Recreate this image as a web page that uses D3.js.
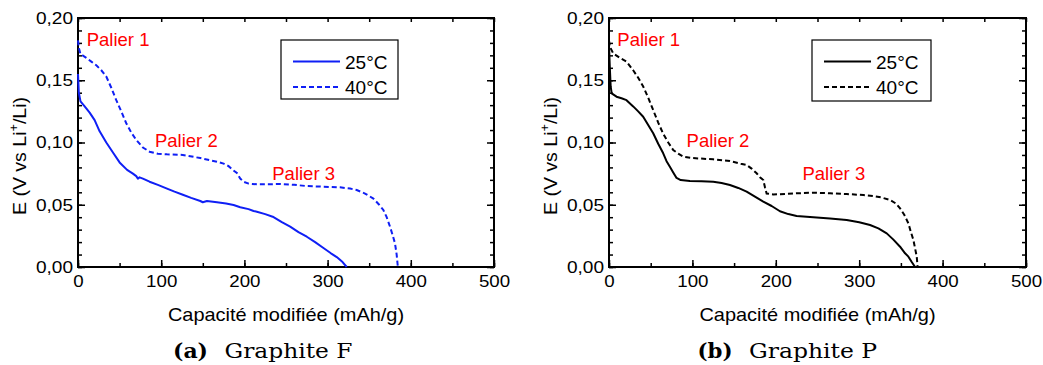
<!DOCTYPE html>
<html><head><meta charset="utf-8">
<script src="https://cdn.jsdelivr.net/npm/d3@7"></script>
<style>
html,body{margin:0;padding:0;background:#fff;}
</style></head>
<body><svg id="c" width="1043" height="365" font-family="Liberation Sans, Arial, sans-serif"></svg>
<script>
// ---------- data ----------
const xTicks = [0,100,200,300,400,500];
const yTicks = [0,0.05,0.10,0.15,0.20];
const seriesNames = ["25°C","40°C"];
const paliers = ["Palier 1","Palier 2","Palier 3"];
const captionsTag = ["(a)","(b)"];
const captionsText = ["Graphite F","Graphite P"];

// Graphite F, 25°C : [capacity mAh/g, E V]
const F25 = [[0,0.155],[1,0.140],[3,0.133],[8,0.129],[14,0.124],[20,0.118],[26,0.109],[34,0.100],[42,0.092],[50,0.084],[59,0.078],[66,0.075],[70,0.073],[72,0.071],[74,0.072],[78,0.071],[86,0.0685],[96,0.066],[107,0.063],[116,0.0605],[126,0.058],[136,0.0555],[147,0.053],[150,0.052],[155,0.053],[167,0.052],[178,0.051],[187,0.0498],[195,0.048],[205,0.0465],[211,0.045],[215,0.0444],[225,0.0425],[234,0.0404],[245,0.036],[255,0.0324],[265,0.028],[275,0.0243],[285,0.020],[295,0.0153],[304,0.011],[311,0.008],[318,0.004],[323,0.0]];
// Graphite F, 40°C
const F40 = [[0,0.182],[1,0.176],[3,0.171],[10,0.168],[16,0.165],[22,0.162],[28,0.158],[34,0.153],[40,0.144],[46,0.134],[52,0.125],[58,0.1155],[64,0.108],[70,0.102],[78,0.096],[86,0.0926],[96,0.091],[107,0.0905],[126,0.090],[147,0.0875],[160,0.0855],[167,0.0846],[175,0.083],[181,0.081],[186,0.078],[191,0.0755],[195,0.071],[199,0.0685],[205,0.067],[215,0.0664],[230,0.0665],[243,0.0667],[260,0.066],[275,0.065],[295,0.0645],[315,0.064],[327,0.063],[335,0.0618],[345,0.059],[355,0.055],[362,0.050],[367,0.0458],[371,0.040],[375,0.0324],[378,0.026],[381,0.019],[383,0.010],[384,0.003],[384.5,0.0]];
// Graphite P, 25°C
const P25 = [[0,0.178],[1,0.160],[2,0.145],[3.2,0.1395],[9,0.1368],[15,0.1355],[21,0.134],[29,0.129],[35,0.125],[41,0.1207],[47,0.114],[53,0.1074],[59,0.099],[65,0.0913],[69,0.085],[73,0.0806],[77,0.076],[81,0.0715],[86,0.0698],[97,0.069],[111,0.0688],[125,0.0685],[135,0.0675],[145,0.0659],[155,0.0635],[165,0.0605],[175,0.0565],[185,0.0525],[195,0.049],[205,0.0448],[215,0.0425],[225,0.041],[245,0.0399],[265,0.039],[285,0.0378],[300,0.036],[313,0.0337],[323,0.031],[333,0.027],[341,0.022],[349,0.0163],[355,0.011],[359,0.0083],[363,0.004],[367,0.0]];
// Graphite P, 40°C
const P40 = [[0,0.182],[1,0.177],[5,0.1716],[13,0.168],[21,0.165],[29,0.158],[35,0.152],[41,0.145],[47,0.136],[53,0.126],[59,0.116],[65,0.107],[71,0.100],[77,0.094],[83,0.091],[89,0.0886],[100,0.0875],[125,0.0865],[145,0.0851],[158,0.083],[165,0.082],[171,0.079],[177,0.0753],[181,0.072],[185,0.0699],[187,0.064],[189,0.059],[197,0.0583],[205,0.0585],[225,0.0592],[245,0.0597],[265,0.0592],[285,0.0586],[305,0.0578],[317,0.057],[327,0.0558],[337,0.0538],[344,0.051],[349,0.0471],[354,0.042],[359,0.035],[362,0.028],[365,0.0217],[367,0.015],[369,0.0083],[370,0.0]];
// annotation anchor points in data units [capacity, E]
const palierPosF = [[10.5,0.1777],[92.5,0.0966],[233.5,0.0699]];
const palierPosP = [[10,0.1777],[93,0.0966],[232,0.0699]];

// ---------- drawing ----------
const svg = d3.select("#c");
const fmt = d => d3.format(".2f")(d).replace(".", ",");
function stretch(sel, f){
  sel.each(function(){
    const w = this.getComputedTextLength();
    d3.select(this).attr("textLength", w*f).attr("lengthAdjust","spacingAndGlyphs");
  });
}

function panel(cfg){
  const g = svg.append("g");
  const x = d3.scaleLinear().domain([0,500]).range([cfg.l, cfg.r]);
  const y = d3.scaleLinear().domain([0,0.20]).range([cfg.b, cfg.t]);

  const xMinor = d3.range(0,501,50), yMinor = d3.range(0,0.2001,0.01);
  const clean = s=>{s.select(".domain").remove(); s.selectAll("line").attr("stroke-width",1.5);};
  g.append("g").attr("transform",`translate(0,${cfg.b})`)
    .call(d3.axisBottom(x).tickValues(xMinor).tickSize(-4).tickFormat("")).call(clean);
  g.append("g").attr("transform",`translate(0,${cfg.t})`)
    .call(d3.axisTop(x).tickValues(xMinor).tickSize(-4).tickFormat("")).call(clean);
  g.append("g").attr("transform",`translate(${cfg.l},0)`)
    .call(d3.axisLeft(y).tickValues(yMinor).tickSize(-4).tickFormat("")).call(clean);
  g.append("g").attr("transform",`translate(${cfg.r},0)`)
    .call(d3.axisRight(y).tickValues(yMinor).tickSize(-4).tickFormat("")).call(clean);

  g.append("g").attr("transform",`translate(0,${cfg.b})`)
    .call(d3.axisBottom(x).tickValues(xTicks).tickSize(-7).tickPadding(6).tickFormat(d3.format("d")))
    .call(clean)
    .call(s=>{s.selectAll("text").attr("font-size",17).attr("fill","#000").attr("font-family",null)
      .attr("y",0).attr("dy","1.17em").call(stretch,1.1);});
  g.append("g").attr("transform",`translate(${cfg.l},0)`)
    .call(d3.axisLeft(y).tickValues(yTicks).tickSize(-7).tickPadding(5).tickFormat(fmt))
    .call(clean)
    .call(s=>{s.selectAll("text").attr("font-size",17).attr("fill","#000").attr("font-family",null)
      .call(stretch,1.12);});
  g.append("g").attr("transform",`translate(${cfg.r},0)`)
    .call(d3.axisRight(y).tickValues(yTicks).tickSize(-7).tickFormat("")).call(clean);

  g.append("rect").attr("x",cfg.l).attr("y",cfg.t).attr("width",cfg.r-cfg.l).attr("height",cfg.b-cfg.t)
    .attr("fill","none").attr("stroke","#000").attr("stroke-width",2);

  const line = d3.line().x(d=>x(d[0])).y(d=>y(d[1]));
  g.append("path").datum(cfg.s25).attr("d",line).attr("fill","none")
    .attr("stroke",cfg.color).attr("stroke-width",2).attr("stroke-linejoin","round");
  g.append("path").datum(cfg.s40).attr("d",line).attr("fill","none")
    .attr("stroke",cfg.color).attr("stroke-width",2).attr("stroke-dasharray","5,3");

  paliers.forEach((p,i)=>{
    g.append("text").attr("x",x(cfg.pal[i][0])).attr("y",y(cfg.pal[i][1]))
      .attr("fill","#ff0000").attr("font-size",18.5).text(p);
  });

  const L = cfg.leg;
  g.append("rect").attr("x",L.x).attr("y",L.y).attr("width",L.w).attr("height",L.h)
    .attr("fill","#fff").attr("stroke","#000").attr("stroke-width",1.2);
  seriesNames.forEach((n,i)=>{
    const yy = L.y + 21.5 + i*25.5;
    g.append("line").attr("x1",L.x+12).attr("x2",L.x+59).attr("y1",yy).attr("y2",yy)
      .attr("stroke",cfg.color).attr("stroke-width",2)
      .attr("stroke-dasharray", i===1 ? "5,3" : null);
    g.append("text").attr("x",L.x+64).attr("y",yy+7).attr("font-size",19).attr("fill","#000").text(n);
  });

  g.append("text").attr("x",(cfg.l+cfg.r)/2).attr("y",321).attr("text-anchor","middle")
    .attr("font-size",19).attr("fill","#000").text("Capacité modifiée (mAh/g)").call(stretch,1.05);
  const yl = g.append("text").attr("transform",`translate(${cfg.l-52},156) rotate(-90)`)
    .attr("text-anchor","middle").attr("font-size",18.5).attr("fill","#000");
  yl.append("tspan").text("E (V vs Li");
  yl.append("tspan").attr("font-size",12).attr("dy",-8).text("+");
  yl.append("tspan").attr("dy",8).text("/Li)");
  yl.attr("textLength",118).attr("lengthAdjust","spacingAndGlyphs");

  g.append("text").attr("x",cfg.capX-89.5).attr("y",358)
    .attr("font-family","DejaVu Serif, serif").attr("font-size",20).attr("font-weight","bold")
    .attr("fill","#000").attr("textLength",35).attr("lengthAdjust","spacingAndGlyphs").text(cfg.tag);
  g.append("text").attr("x",cfg.capX-38).attr("y",358)
    .attr("font-family","DejaVu Serif, serif").attr("font-size",20)
    .attr("fill","#000").attr("textLength",128).attr("lengthAdjust","spacingAndGlyphs").text(cfg.cap);
}

panel({l:78,r:494,t:18,b:267,s25:F25,s40:F40,color:"#0f1ff5",pal:palierPosF,
  leg:{x:281,y:40,w:117,h:59},capX:262.5,tag:captionsTag[0],cap:captionsText[0]});
panel({l:609,r:1026,t:18,b:267,s25:P25,s40:P40,color:"#000",pal:palierPosP,
  leg:{x:812,y:40,w:119,h:61},capX:787,tag:captionsTag[1],cap:captionsText[1]});
</script></body></html>
